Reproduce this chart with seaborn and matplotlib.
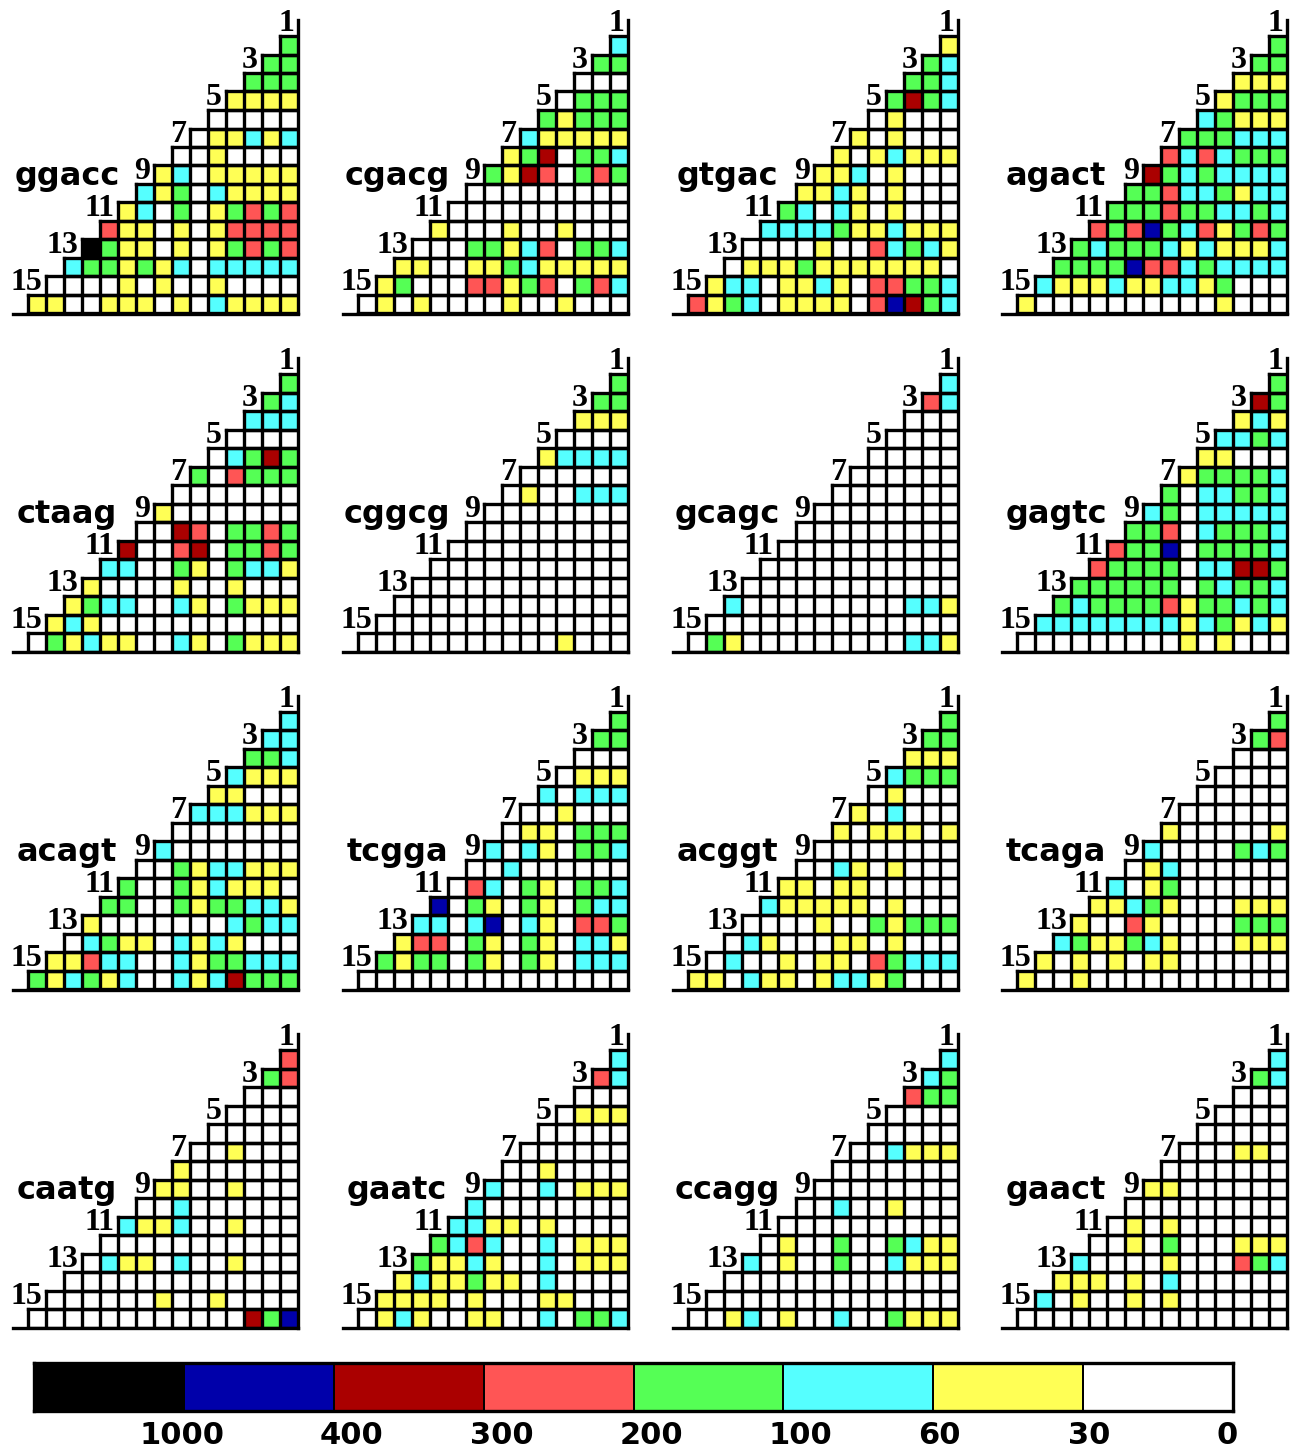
import numpy as np
import matplotlib
matplotlib.use("Agg")
import matplotlib.pyplot as plt
from matplotlib.colors import ListedColormap
import seaborn as sns

# colour-bin index per cell: 0 white (0-30), 1 yellow (30-60), 2 cyan (60-100), 3 green (100-200),
# 4 red (200-300), 5 dark red (300-400), 6 blue (400-1000), 7 black (>1000)
GGACC = ["3","33","333","1111","00000","011212","0010000","12011111","213021111","1203013434",
         "41101014444","731101013434","2331312022222","00001010010000","110011101021111"]
CGACG = ["2","33","000","0333","31333","211111","1350332","31540343","000000000","0000000000",
         "10001001000","000331240332","1100113211111","13000441340342","010100001001000"]
GTGAC = ["1","32","332","3532","01000","101000","1012111","11201000","112101000","3202101000",
         "22223112111","000010042321","0111311111110","12201121044332","413201111046532"]
AGACT = ["3","33","111","1333","23111","333222","4242333","53232222","334223122","3334332232",
         "43463241343","323332121112","3333644232222","21112112213000","100000000001000"]
CTAAG = ["3","32","222","0000","02353","304333","0000000","10000000","005403343","5004503343",
         "22003103221","100001001000","1322002103111","12100000000000","031211002103111"]
CGGCG = ["3","33","111","0000","12222","000000","0100222","00000000","000000000","0000000000",
         "00000000000","000000000000","0000000000000","00000000000000","000000000001000"]
GCAGC = ["2","42","000","0000","00000","000000","0000000","00000000","000000000","0000000000",
         "00000000000","000000000000","2000000000221","00000000000000","031000000000221"]
GAGTC = ["3","53","121","2232","11000","133332","3022332","23022222","334023332","4336033332",
         "43333022553","333333032332","3233334133232","22222222123121","000000000101000"]
ACAGT = ["2","22","332","2111","11000","222111","0000000","20000000","003122111","3003121110",
         "33003133221","100000002322","0231102121000","11422002133222","312312002125333"]
TCGGA = ["3","33","000","0111","20222","001000","0110333","20210332","002000000","0420310332",
         "60310310322","220260210443","1440310310221","31330310310222","000000000000000"]
ACGGT = ["3","33","111","2333","01000","102000","1011101","00000000","002101000","1101100000",
         "21111101000","000010031333","0210001101000","02001011043222","110211012213000"]
TCAGA = ["3","34","000","0000","00000","000000","1000001","20000323","012000000","2013000000",
         "11231000111","100410000333","2311321000111","10101011000000","100100000000000"]
CAATG = ["4","34","000","0000","00000","001000","1000000","11001000","002000000","2112001000",
         "00000000000","021102001000","0000000000000","00000010010000","000000000000536"]
GAATC = ["2","42","000","0111","00000","000000","0010000","20020111","200000000","2211010000",
         "32420020111","311210020111","1211311020000","11110100011000","012100110020332"]
CCAGG = ["2","23","433","0000","00000","002111","0000000","00000000","002001000","0000000000",
         "01003003211","201003002111","0000000000000","00000000000000","001201002003111"]
GAACT = ["2","32","000","0000","00000","000110","0000000","11000000","000000000","0101000000",
         "00103000111","200001000432","1110102000000","20100101000000","000000000000000"]

MOTIFS = ["ggacc","cgacg","gtgac","agact","ctaag","cggcg","gcagc","gagtc",
          "acagt","tcgga","acggt","tcaga","caatg","gaatc","ccagg","gaact"]
PANELS = [GGACC,CGACG,GTGAC,AGACT,CTAAG,CGGCG,GCAGC,GAGTC,
          ACAGT,TCGGA,ACGGT,TCAGA,CAATG,GAATC,CCAGG,GAACT]
ROW_LABELS = [1,3,5,7,9,11,13,15]
LEGEND_BINS = [7,6,5,4,3,2,1,0]
LEGEND_LABELS = ["1000","400","300","200","100","60","30","0"]
LEGEND_SHIFT_PX = [-2,18,18,18,17,6,6,-6]
COLORS = ["#FFFFFF","#FFFF55","#55FFFF","#55FF55","#FF5555","#AA0000","#0000AA","#000000"]

W, H = 1294, 1452
RIGHTS = [298, 628, 958, 1287]
BOTTOMS = [313.5, 651.5, 989.5, 1327.5]
PW, PH = 285, 293.5
N = 15

sns.set_theme(style="white", rc={"axes.facecolor": "white", "figure.facecolor": "white"})
DIGIT_FONT = "Liberation Serif"
cmap = ListedColormap(COLORS)
fig = plt.figure(figsize=(W/100, H/100), dpi=100)
LW = 2.4

for idx, (name, rows) in enumerate(zip(MOTIFS, PANELS)):
    r, c = divmod(idx, 4)
    ax = fig.add_axes([(RIGHTS[c]-PW)/W, 1-BOTTOMS[r]/H, PW/W, PH/H])
    grid = np.zeros((N, N))
    mask = np.ones((N, N), dtype=bool)
    for i, row in enumerate(rows):
        grid[i, N-len(row):] = [int(ch) for ch in row]
        mask[i, N-len(row):] = False
    sns.heatmap(grid, mask=mask, cmap=cmap, vmin=-0.5, vmax=7.5, cbar=False,
                linewidths=0, xticklabels=False, yticklabels=False, ax=ax)
    # staircase cell outlines, only around the cells that exist
    for i, row in enumerate(rows):
        start = N-len(row)
        ax.hlines([i, i+1], start, N, colors="black", linewidth=LW, capstyle="projecting", zorder=3)
        ax.vlines(start, i, N, colors="black", linewidth=LW, capstyle="projecting", zorder=3)
    cw = 18.0
    ch_ = 277.5/15
    ax.set_xlim(N-PW/cw, N)
    ax.set_ylim(N, -(PH-277.5)/ch_)
    for s, sp in ax.spines.items():
        sp.set_visible(s in ("right", "bottom"))
        sp.set_color("black")
        sp.set_linewidth(LW)
    for k in ROW_LABELS:
        ax.annotate(str(k), xy=(N-k+1, k-1), xycoords="data", xytext=(-4, 5),
                    textcoords="offset pixels", ha="right", va="baseline",
                    fontsize=23, fontweight="bold", family=DIGIT_FONT, color="black",
                    annotation_clip=False, zorder=5)
    ax.annotate(name, xy=(1, 0), xycoords="axes fraction", xytext=(-231, 128),
                textcoords="offset pixels", ha="center", va="baseline",
                fontsize=23, fontweight="bold", family="DejaVu Sans", color="black",
                annotation_clip=False, zorder=5)

# colour key
lax = fig.add_axes([34/W, 1-1411/H, (1233-34)/W, 48/H])
sns.heatmap(np.array([LEGEND_BINS]), cmap=cmap, vmin=-0.5, vmax=7.5, cbar=False,
            linewidths=1.3, linecolor="black", xticklabels=False, yticklabels=False, ax=lax)
for sp in lax.spines.values():
    sp.set_visible(True)
    sp.set_color("black")
    sp.set_linewidth(LW)
cell_px = (1233-34)/len(LEGEND_BINS)
lax.set_xticks([i+1+s/cell_px for i, s in enumerate(LEGEND_SHIFT_PX)])
lax.set_xticklabels(LEGEND_LABELS, rotation=0, fontsize=22, fontweight="bold", family="DejaVu Sans", color="black")
lax.tick_params(axis="x", length=0, pad=7, bottom=True)

fig.savefig("out.png", dpi=100, facecolor="white")
